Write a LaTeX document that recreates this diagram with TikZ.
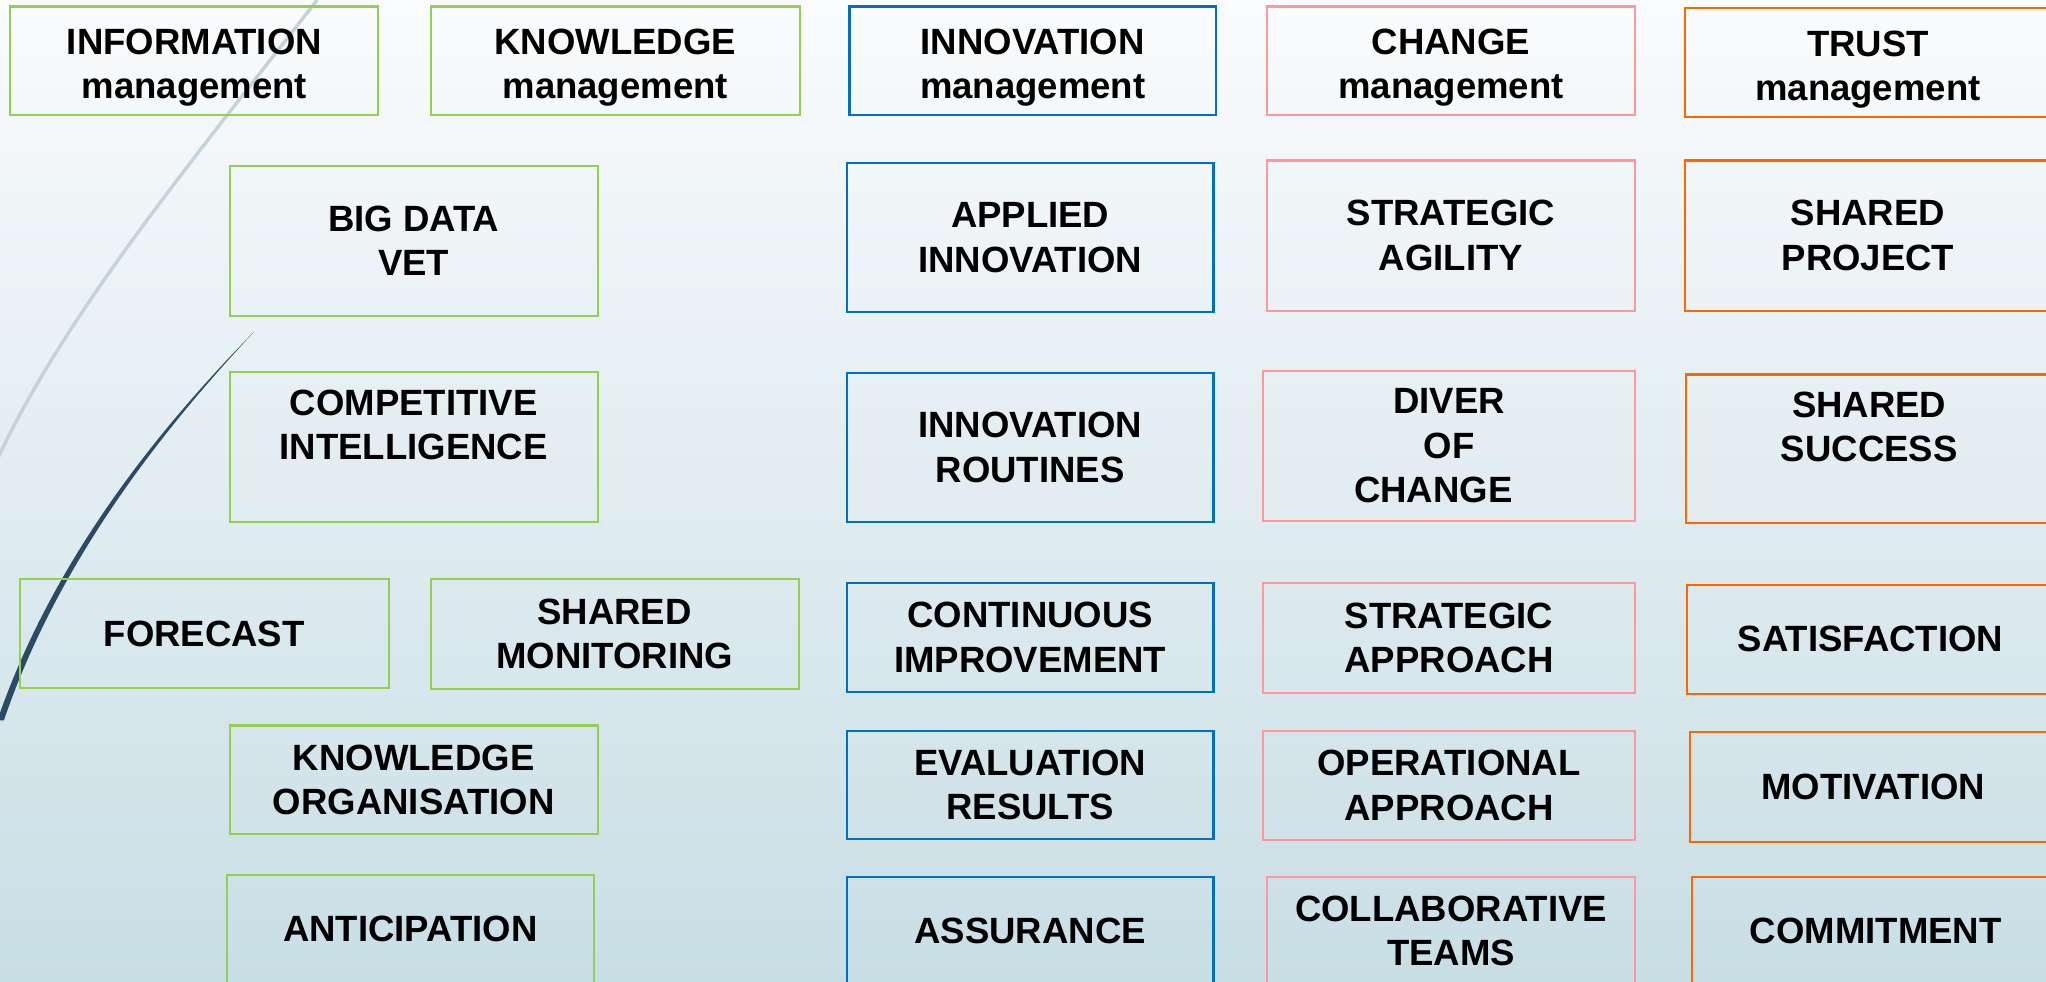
\documentclass[tikz,border=0pt]{standalone}
\usepackage{fontspec}
\setmainfont{Liberation Sans}
\definecolor{cgreen}{HTML}{92D050}
\definecolor{cblue}{HTML}{0070C0}
\definecolor{cpink}{HTML}{FF9999}
\definecolor{corange}{HTML}{FF6600}
\definecolor{bgtop}{HTML}{FAFBFC}
\definecolor{bgbot}{HTML}{C8DEE5}
\definecolor{arcgray}{HTML}{C4D2DA}
\definecolor{arcdark}{HTML}{2A4A66}
\newcommand{\hstrut}{\rule{0pt}{15pt}}
\tikzset{
  bx/.style={draw, line width=0.8pt, inner sep=0pt, align=center,
    font=\fontsize{14}{17}\selectfont\bfseries, text=black},
  gbox/.style={bx, draw=cgreen},
  bbox/.style={bx, draw=cblue},
  pbox/.style={bx, draw=cpink},
  obox/.style={bx, draw=corange},
}
\begin{document}
\begin{tikzpicture}[x=0.5pt, y=-0.5pt]
\useasboundingbox (0,0) rectangle (1568,752);
\clip (0,0) rectangle (1568,752);
\shade[top color=bgtop, bottom color=bgbot] (0,0) rectangle (1568,752);
% decorative arcs
\draw[arcgray, line width=1.3pt] (243,0) .. controls (150,120) and (50,240) .. (-2,352);
\fill[arcdark] (195,254) .. controls (120,330) and (40,430) .. (-2,552) -- (3,552) .. controls (44,432) and (122,332) .. cycle;
% green column
\node[gbox, minimum width=141pt, minimum height=41.5pt] (info) at (149,46.5) {\hstrut INFORMATION\\management};
\node[gbox, minimum width=141.5pt, minimum height=41.5pt] (know) at (471.5,46.5) {\hstrut KNOWLEDGE\\management};
\node[gbox, minimum width=141pt, minimum height=57.5pt] (bigdata) at (317,184.5) {BIG DATA\\VET};
\node[gbox, minimum width=141pt, minimum height=57.5pt] (compint) at (317,342.5) {COMPETITIVE\\INTELLIGENCE\\\mbox{}};
\node[gbox, minimum width=141.5pt, minimum height=41.5pt] (forecast) at (156.5,485.5) {FORECAST};
\node[gbox, minimum width=141pt, minimum height=42pt] (sharedmon) at (471,486) {SHARED\\MONITORING};
\node[gbox, minimum width=141pt, minimum height=41.5pt] (knoworg) at (317,597.5) {KNOWLEDGE\\ORGANISATION};
\node[gbox, minimum width=140.5pt, minimum height=41.5pt] (anticip) at (314.5,712) {ANTICIPATION};
% blue column
\node[bbox, minimum width=140.5pt, minimum height=41.5pt] (innov) at (791.5,46.5) {\hstrut INNOVATION\\management};
\node[bbox, minimum width=140.5pt, minimum height=57pt] (applied) at (789.5,182) {APPLIED\\INNOVATION};
\node[bbox, minimum width=140.5pt, minimum height=57pt] (routines) at (789.5,343) {INNOVATION\\ROUTINES};
\node[bbox, minimum width=140.5pt, minimum height=41.5pt] (contimp) at (789.5,488.5) {CONTINUOUS\\IMPROVEMENT};
\node[bbox, minimum width=140.5pt, minimum height=41.5pt] (eval) at (789.5,601.5) {EVALUATION\\RESULTS};
\node[bbox, minimum width=140.5pt, minimum height=41.5pt] (assur) at (789.5,713.5) {ASSURANCE};
% pink column
\node[pbox, minimum width=141pt, minimum height=41.5pt] (change) at (1112,46.5) {\hstrut CHANGE\\management};
\node[pbox, minimum width=141pt, minimum height=57.5pt] (stratag) at (1112,180.5) {STRATEGIC\\AGILITY};
\node[pbox, minimum width=142.5pt, minimum height=57.5pt] (diver) at (1110.5,341.5) {DIVER\\OF\\CHANGE\hspace*{12pt}};
\node[pbox, minimum width=142.5pt, minimum height=42pt] (stratapp) at (1110.5,489) {STRATEGIC\\APPROACH};
\node[pbox, minimum width=142.5pt, minimum height=42pt] (operapp) at (1110.5,602) {OPERATIONAL\\APPROACH};
\node[pbox, minimum width=141pt, minimum height=41.5pt] (collab) at (1112,713.5) {COLLABORATIVE\\TEAMS};
% orange column
\node[obox, minimum width=140.5pt, minimum height=42pt] (trust) at (1431.5,48) {\hstrut TRUST\\management};
\node[obox, minimum width=140.5pt, minimum height=57.5pt] (sharedproj) at (1431.5,180.5) {SHARED\\PROJECT};
\node[obox, minimum width=140.5pt, minimum height=57pt] (sharedsucc) at (1432.5,344) {SHARED\\SUCCESS\\\mbox{}};
\node[obox, minimum width=140.5pt, minimum height=42pt] (satis) at (1433.5,490) {SATISFACTION};
\node[obox, minimum width=140.5pt, minimum height=42pt] (motiv) at (1435.5,603) {MOTIVATION};
\node[obox, minimum width=140.5pt, minimum height=41.5pt] (commit) at (1437.5,713.5) {COMMITMENT};
\end{tikzpicture}
\end{document}
